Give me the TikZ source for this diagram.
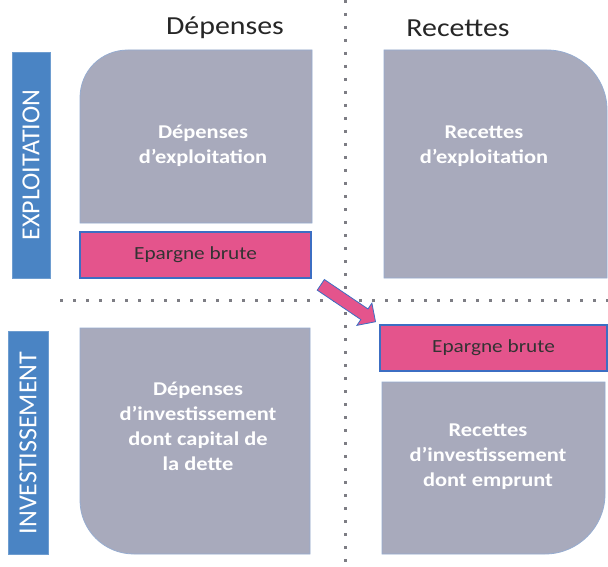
\documentclass[tikz,border=0pt]{standalone}
\usepackage{fontspec}
\setmainfont{Carlito}
\newfontfamily\widefont{Carlito}[FakeStretch=1.15]
\usetikzlibrary{shapes.arrows,calc}
\definecolor{boxgray}{RGB}{168,170,188}
\definecolor{boxedge}{RGB}{150,172,208}
\definecolor{pinkfill}{RGB}{228,84,140}
\definecolor{pinkedge}{RGB}{60,110,195}
\definecolor{barblue}{RGB}{74,132,196}
\definecolor{dotgray}{RGB}{125,125,132}
\begin{document}
\begin{tikzpicture}[x=1pt,y=-1pt,
  grayshape/.style={fill=boxgray, draw=boxedge, line width=0.8pt},
  pinkbox/.style={fill=pinkfill, draw=pinkedge, line width=1.2pt, inner sep=0pt,
    text=black!80, font=\widefont\fontsize{18.5}{24}\selectfont},
  sidebar/.style={fill=barblue, draw=barblue!80!white, line width=0.8pt, inner sep=0pt,
    text=white, font=\fontsize{26}{28}\selectfont},
  boxtext/.style={text=white, font=\widefont\bfseries\fontsize{19.5}{25}\selectfont, align=center},
  coltitle/.style={text=black!85, font=\widefont\fontsize{26}{30}\selectfont},
  divider/.style={dotgray, line width=3pt, dash pattern=on 3pt off 10pt},
  fatarrow/.style={single arrow, fill=pinkfill, draw=pinkedge, line width=0.8pt,
    inner sep=6pt, single arrow head extend=7pt, minimum height=66pt}]
\useasboundingbox (0,0) rectangle (608,567);
\fill[white] (0,0) rectangle (608,567);

% dotted dividers
\coordinate (vtop) at (345,0);
\coordinate (vbot) at (345,567);
\coordinate (hleft) at (60,300);
\coordinate (hright) at (608,300);
\draw[divider] (vtop) -- (vbot);
\draw[divider] (hleft) -- (hright);

% column titles
\node[coltitle] (tdep) at (225,28) {Dépenses};
\node[coltitle] (trec) at (458,28) {Recettes};

% side bars
\node[sidebar, rotate=90, minimum width=226pt, minimum height=38pt] (expl) at (31,165) {EXPLOITATION};
\node[sidebar, rotate=90, minimum width=223pt, minimum height=40pt] (inv) at (28,443) {INVESTISSEMENT};

% gray shapes
\path[grayshape] (80,223) -- (80,98) .. controls (80,71) and (101,50) .. (128,50) -- (312,50) -- (312,223) -- cycle;
\path[grayshape] (384,278) -- (384,50) -- (547,50) .. controls (580,50) and (607,77) .. (607,110) -- (607,278) -- cycle;
\path[grayshape] (80,328) -- (310,328) -- (310,554) -- (134,554) .. controls (104,554) and (80,530) .. (80,500) -- cycle;
\path[grayshape] (382,382) -- (605,382) -- (605,494) .. controls (605,527) and (578,554) .. (545,554) -- (382,554) -- cycle;

\node[boxtext] (depexp) at (203,146) {Dépenses\\d’exploitation};
\node[boxtext] (recexp) at (484,146) {Recettes\\d’exploitation};
\node[boxtext] (depinv) at (198,426) {Dépenses\\d’investissement\\dont capital de\\la dette};
\node[boxtext] (recinv) at (488,457) {Recettes\\d’investissement\\dont emprunt};

% pink boxes
\node[pinkbox, minimum width=231pt, minimum height=46pt] (ep1) at (195.5,255) {Epargne brute};
\node[pinkbox, minimum width=227pt, minimum height=46pt] (ep2) at (493.5,348) {Epargne brute};

% arrow
\node[fatarrow, rotate=-34] (arr) at ($(ep1.south east)!0.5!(ep2.north west)$) {};
\end{tikzpicture}
\end{document}
